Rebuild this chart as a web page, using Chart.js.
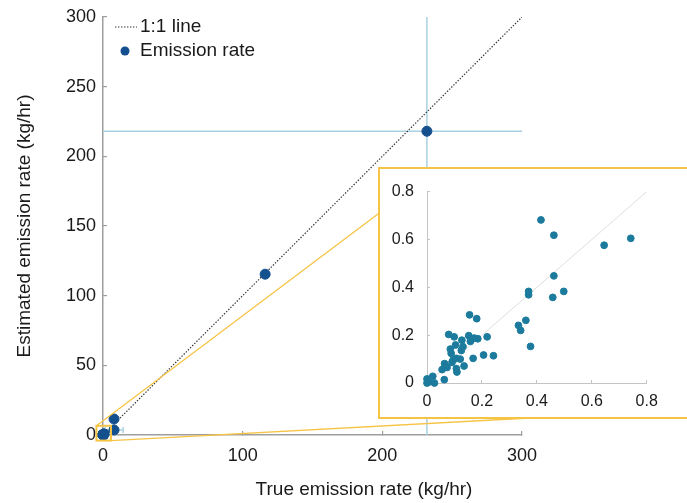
<!DOCTYPE html>
<html>
<head>
<meta charset="utf-8">
<script src="https://cdn.jsdelivr.net/npm/chart.js@4.4.1/dist/chart.umd.min.js"></script>
<style>
  html, body { margin: 0; padding: 0; background: #fff; overflow: hidden; }
  #wrap { position: relative; width: 687px; height: 503px; overflow: hidden; }
  #main { position: absolute; left: 0; top: 0; }
  #insetBox { position: absolute; left: 378px; top: 167px; width: 330px; height: 248px;
              border: 2px solid #f6c445; background: #fff; }
  #inset { display: block; }
</style>
</head>
<body>
<div id="wrap">
  <canvas id="main" width="687" height="503"></canvas>
  <div id="insetBox"><canvas id="inset" width="330" height="248"></canvas></div>
</div>
<script>
const FONT = "'Liberation Sans', Arial, Helvetica, sans-serif";

// large releases, kg/hr
const trueRate = [231.9, 116.1, 7.9, 7.9];
const estRate  = [218.0, 115.4, 11.5, 3.6];
const errTrue  = [400, 0, 0, 6.5];   // +/- on the true rate
const errEst   = [400, 0, 0, 0];     // +/- on the estimate

// small releases shown in the inset, kg/hr
const smallTrue = [0.415, 0.462, 0.645, 0.742, 0.462, 0.370, 0.370, 0.458, 0.498, 0.155,
                   0.181, 0.360, 0.333, 0.341, 0.377, 0.079, 0.099, 0.152, 0.158, 0.172,
                   0.185, 0.219, 0.127, 0.085, 0.104, 0.131, 0.125, 0.088, 0.168, 0.206,
                   0.242, 0.107, 0.121, 0.095, 0.091, 0.107, 0.109, 0.135, 0.064, 0.067,
                   0.055, 0.063, 0.021, 0.000, 0.006, 0.027, 0.000, 0.160, 0.073];
const smallEst  = [0.682, 0.618, 0.576, 0.605, 0.448, 0.383, 0.369, 0.358, 0.383, 0.285,
                   0.269, 0.262, 0.241, 0.220, 0.153, 0.203, 0.193, 0.198, 0.174, 0.188,
                   0.185, 0.193, 0.179, 0.142, 0.159, 0.152, 0.136, 0.124, 0.103, 0.117,
                   0.114, 0.103, 0.100, 0.096, 0.086, 0.060, 0.046, 0.071, 0.081, 0.070,
                   0.056, 0.014, 0.028, 0.017, 0.004, 0.000, 0.000, 0.180, 0.065];

const oneToOne      = [0, 300];
const insetOneToOne = [0, 0.8];
const mainTicksX  = [0, 100, 200, 300];
const mainTicksY  = [0, 50, 100, 150, 200, 250, 300];
const insetTicks  = [0, 0.2, 0.4, 0.6, 0.8];

const xTitle = 'True emission rate (kg/hr)';
const yTitle = 'Estimated emission rate (kg/hr)';

// zoom rectangle around the origin and where its guides meet the inset frame (data units)
const zoomBox    = { x: [-4.7, 5.7], y: [-4, 6.6] };
const guideTop   = { x: 198.3, y: 159.7 };
const guideBottom = { x: 305.7, y: 12.2 };

const pts = (xs, ys) => xs.map((v, i) => ({ x: v, y: ys[i] }));

const errorBars = {
  id: 'errorBars',
  beforeDatasetsDraw(chart) {
    const { ctx, chartArea: a, scales: { x, y } } = chart;
    ctx.save();
    ctx.beginPath();
    ctx.rect(a.left, a.top, a.right - a.left, a.bottom - a.top);
    ctx.clip();
    ctx.strokeStyle = '#a8d0e3';
    ctx.lineWidth = 1.5;
    const seg = (x1, y1, x2, y2) => { ctx.beginPath(); ctx.moveTo(x1, y1); ctx.lineTo(x2, y2); ctx.stroke(); };
    trueRate.forEach((tv, i) => {
      const px = x.getPixelForValue(tv), py = y.getPixelForValue(estRate[i]);
      if (errTrue[i]) {
        const l = x.getPixelForValue(tv - errTrue[i]), r = x.getPixelForValue(tv + errTrue[i]);
        seg(l, py, r, py);
        seg(l, py - 3, l, py + 3);
        seg(r, py - 3, r, py + 3);
      }
      if (errEst[i]) {
        const t = y.getPixelForValue(estRate[i] + errEst[i]), b = y.getPixelForValue(estRate[i] - errEst[i]);
        seg(px, t, px, b);
      }
    });
    ctx.restore();
  }
};

const zoomGuides = {
  id: 'zoomGuides',
  afterDatasetsDraw(chart) {
    const { ctx, scales: { x, y } } = chart;
    const l = x.getPixelForValue(zoomBox.x[0]), r = x.getPixelForValue(zoomBox.x[1]);
    const t = y.getPixelForValue(zoomBox.y[1]), b = y.getPixelForValue(zoomBox.y[0]);
    ctx.save();
    ctx.strokeStyle = '#f6c445';
    ctx.lineWidth = 2;
    ctx.strokeRect(l, t, r - l, b - t);
    ctx.lineWidth = 1.3;
    ctx.beginPath();
    ctx.moveTo(l, t);
    ctx.lineTo(x.getPixelForValue(guideTop.x), y.getPixelForValue(guideTop.y));
    ctx.moveTo(r, b);
    ctx.lineTo(x.getPixelForValue(guideBottom.x), y.getPixelForValue(guideBottom.y));
    ctx.stroke();
    ctx.restore();
  }
};

const plotLegend = {
  id: 'plotLegend',
  afterDraw(chart) {
    const { ctx } = chart;
    const rows = [chart.data.datasets[1], chart.data.datasets[0]];
    ctx.save();
    ctx.font = '19px ' + FONT;
    ctx.textBaseline = 'middle';
    rows.forEach((ds, i) => {
      const cy = 27 + i * 24;
      if (ds.type === 'line') {
        ctx.strokeStyle = ds.borderColor;
        ctx.lineWidth = ds.borderWidth;
        ctx.setLineDash(ds.borderDash);
        ctx.beginPath(); ctx.moveTo(115, cy); ctx.lineTo(137, cy); ctx.stroke();
        ctx.setLineDash([]);
      } else {
        ctx.fillStyle = ds.backgroundColor;
        ctx.beginPath(); ctx.arc(125, cy, 4.5, 0, Math.PI * 2); ctx.fill();
      }
      ctx.fillStyle = '#1a1a1a';
      ctx.fillText(ds.label, 140, cy);
    });
    // x axis title sits right of centre in the original
    ctx.textAlign = 'center';
    ctx.fillText(xTitle, 364, 490);
    ctx.restore();
  }
};

// keep tick labels from pushing the plot area in
const noEdgePad = s => { s.paddingTop = 0; s.paddingBottom = 0; s.paddingLeft = 0; s.paddingRight = 0; };

const axisLook = (ticks, pad) => ({
  grid: { display: true, drawOnChartArea: false, tickLength: -4, color: '#9e9e9e', lineWidth: 1.2 },
  border: { color: '#9e9e9e', width: 1.5 },
  ticks: { color: '#1a1a1a', font: { family: FONT, size: 18 }, padding: pad, callback: v => String(v) },
  afterBuildTicks: s => { s.ticks = ticks.map(v => ({ value: v })); }
});

new Chart(document.getElementById('main'), {
  data: {
    datasets: [
      {
        type: 'scatter',
        label: 'Emission rate',
        data: pts(trueRate, estRate).concat(pts(smallTrue, smallEst)),
        backgroundColor: '#14508e',
        borderColor: '#14508e',
        pointRadius: 5,
        pointHoverRadius: 5,
        clip: false
      },
      {
        type: 'line',
        label: '1:1 line',
        data: pts(oneToOne, oneToOne),
        borderColor: '#333333',
        borderWidth: 1.2,
        borderDash: [1.4, 1.6],
        pointRadius: 0,
        fill: false
      }
    ]
  },
  options: {
    responsive: false,
    animation: false,
    events: [],
    layout: { padding: { top: 17, right: 165, left: 0, bottom: 0 } },
    plugins: { legend: { display: false }, tooltip: { enabled: false } },
    scales: {
      x: Object.assign(axisLook(mainTicksX, 14), {
        type: 'linear', min: 0, max: 300,
        afterFit: s => { s.height = 68; noEdgePad(s); }
      }),
      y: Object.assign(axisLook(mainTicksY, 11), {
        type: 'linear', min: 0, max: 300,
        title: { display: true, text: yTitle, color: '#1a1a1a', font: { family: FONT, size: 19 }, padding: { top: 13 } },
        afterFit: s => { s.width = 103; noEdgePad(s); }
      })
    }
  },
  plugins: [errorBars, zoomGuides, plotLegend]
});

const insetAxis = (pad) => ({
  type: 'linear', min: 0, max: 0.8,
  grid: { display: true, drawOnChartArea: false, tickLength: -3, color: '#c4c4c4' },
  border: { color: '#c4c4c4', width: 1 },
  ticks: { color: '#1a1a1a', font: { family: FONT, size: 16 }, padding: pad, callback: v => String(v) },
  afterBuildTicks: s => { s.ticks = insetTicks.map(v => ({ value: v })); }
});

new Chart(document.getElementById('inset'), {
  data: {
    datasets: [
      {
        type: 'scatter',
        data: pts(smallTrue, smallEst),
        backgroundColor: '#1c7b9c',
        borderColor: '#1c7b9c',
        pointRadius: 3.4,
        clip: false
      },
      {
        type: 'line',
        data: pts(insetOneToOne, insetOneToOne),
        borderColor: '#dedede',
        borderWidth: 1,
        pointRadius: 0,
        fill: false
      }
    ]
  },
  options: {
    responsive: false,
    animation: false,
    events: [],
    layout: { padding: { top: 22.7, right: 63.3, left: 0, bottom: 0 } },
    plugins: { legend: { display: false }, tooltip: { enabled: false } },
    scales: {
      x: Object.assign(insetAxis(12), { afterFit: s => { s.height = 34; noEdgePad(s); } }),
      y: Object.assign(insetAxis(16), { afterFit: s => { s.width = 47; noEdgePad(s); } })
    }
  }
});
</script>
</body>
</html>
